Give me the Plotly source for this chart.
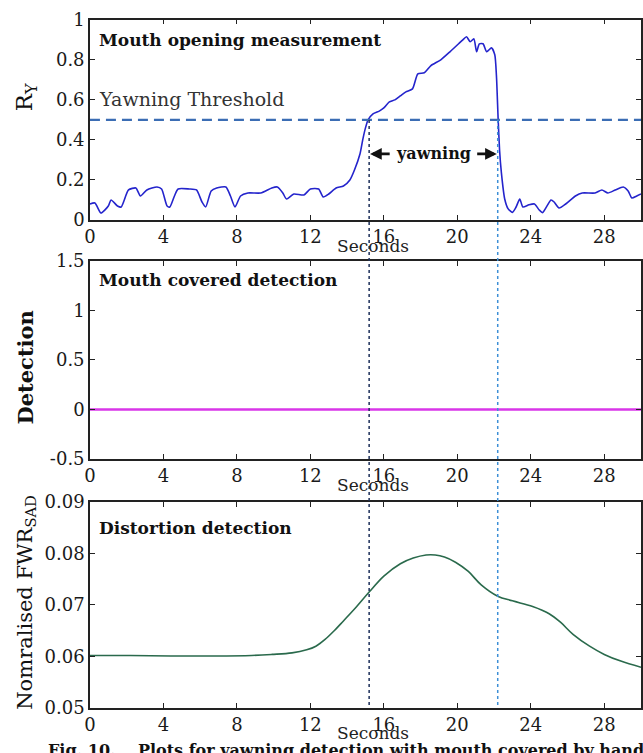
import plotly.graph_objects as go

# ---- data -------------------------------------------------------------
# mouth opening ratio R_Y over time (seconds)
ry_t = [0, 0.27, 0.6, 1.0, 1.15, 1.5, 1.7, 2.1, 2.5, 2.75, 3.1, 3.65, 3.9, 4.2,
        4.35, 4.6, 4.8, 5.4, 5.8, 6.1, 6.3, 6.6, 6.9, 7.4, 7.65, 7.9, 8.2, 8.6,
        9.3, 9.9, 10.2, 10.5, 10.7, 11.1, 11.65, 12.0, 12.45, 12.7, 13.0, 13.4,
        13.8, 14.15, 14.4, 14.7, 14.85, 15.0, 15.14, 15.41, 15.77, 16.0, 16.3,
        16.6, 16.9, 17.2, 17.56, 17.85, 18.2, 18.55, 19.1, 19.6, 20.07, 20.3,
        20.5, 20.7, 20.9, 21.05, 21.2, 21.4, 21.6, 21.86, 22.04, 22.13, 22.22,
        22.3, 22.4, 22.58, 22.76, 23.0, 23.2, 23.4, 23.57, 23.9, 24.2, 24.46,
        24.64, 24.9, 25.1, 25.27, 25.54, 25.9, 26.43, 26.8, 27.5, 27.87, 28.2,
        28.6, 29.03, 29.3, 29.5, 29.77, 30.0]
ry_val = [0.08, 0.085, 0.035, 0.07, 0.10, 0.07, 0.065, 0.15, 0.16, 0.12, 0.15,
          0.165, 0.155, 0.07, 0.065, 0.12, 0.155, 0.155, 0.15, 0.09, 0.065,
          0.145, 0.16, 0.165, 0.12, 0.065, 0.12, 0.135, 0.135, 0.16, 0.165,
          0.135, 0.105, 0.13, 0.125, 0.155, 0.155, 0.115, 0.13, 0.16, 0.17,
          0.20, 0.25, 0.33, 0.40, 0.46, 0.50, 0.53, 0.545, 0.56, 0.59, 0.60,
          0.62, 0.64, 0.655, 0.73, 0.735, 0.77, 0.80, 0.84, 0.88, 0.90, 0.915,
          0.89, 0.905, 0.84, 0.88, 0.88, 0.84, 0.86, 0.825, 0.72, 0.51, 0.35,
          0.235, 0.105, 0.057, 0.038, 0.065, 0.105, 0.065, 0.076, 0.08, 0.05,
          0.037, 0.073, 0.10, 0.09, 0.06, 0.08, 0.12, 0.135, 0.135, 0.15,
          0.135, 0.15, 0.165, 0.145, 0.11, 0.12, 0.13]
threshold = 0.5

# mouth covered detection flag
det_t = [0, 30]
det_val = [0, 0]

# normalised FWR_SAD distortion measure
fwr_t = [0, 2.2, 4.4, 6.6, 8.8, 9.9, 11.0, 11.8, 12.3, 12.8, 13.3, 13.8, 14.5,
         15.2, 16.0, 16.9, 17.6, 18.3, 18.8, 19.3, 19.9, 20.6, 21.3, 22.2,
         23.0, 24.1, 25.0, 25.6, 26.3, 27.2, 28.0, 28.9, 30.0]
fwr_val = [0.0602, 0.0602, 0.0601, 0.0601, 0.0602, 0.0604, 0.0607, 0.0613,
           0.0620, 0.0633, 0.0650, 0.0669, 0.0696, 0.0725, 0.0756, 0.0780,
           0.0791, 0.0797, 0.0797, 0.0793, 0.0783, 0.0765, 0.0739, 0.0717,
           0.0708, 0.0697, 0.0683, 0.0667, 0.0643, 0.0620, 0.0604, 0.0591,
           0.0579]

# yawning interval (start / end of threshold crossing)
yawn_start, yawn_end = 15.2, 22.2

x_ticks = [0, 4, 8, 12, 16, 20, 24, 28]
ry_ticks = [0, 0.2, 0.4, 0.6, 0.8, 1]
ry_ticktext = ["0", "0.2", "0.4", "0.6", "0.8", "1"]
det_ticks = [-0.5, 0, 0.5, 1, 1.5]
det_ticktext = ["-0.5", "0", "0.5", "1", "1.5"]
fwr_ticks = [0.05, 0.06, 0.07, 0.08, 0.09]
fwr_ticktext = ["0.05", "0.06", "0.07", "0.08", "0.09"]

# ---- layout helpers ---------------------------------------------------
W, H = 643, 753
SERIF = "DejaVu Serif"


def px(xp):
    return xp / W


def py(yp):
    return 1 - yp / H


fig = go.Figure()

fig.add_trace(go.Scatter(x=ry_t, y=ry_val, mode="lines",
                         line=dict(color="#2424cc", width=1.6, shape="spline", smoothing=0.6),
                         xaxis="x", yaxis="y", showlegend=False))
fig.add_trace(go.Scatter(x=[0, 30], y=[threshold, threshold], mode="lines",
                         line=dict(color="#3b6db4", width=2.2, dash="10px,6px"),
                         xaxis="x", yaxis="y", showlegend=False))
fig.add_trace(go.Scatter(x=det_t, y=det_val, mode="lines",
                         line=dict(color="#d936e8", width=2.6),
                         xaxis="x2", yaxis="y2", showlegend=False))
fig.add_trace(go.Scatter(x=fwr_t, y=fwr_val, mode="lines",
                         line=dict(color="#2a6a4c", width=1.6, shape="spline", smoothing=1.0),
                         xaxis="x3", yaxis="y3", showlegend=False))

x_dom = [px(85), 1.0]
doms = {
    "": [py(215), py(9)],
    "2": [py(461), py(257)],
    "3": [py(717), py(505)],
}

tickfont = dict(family=SERIF, size=18, color="#1a1a1a")
common_axis = dict(showline=True, linecolor="#222", linewidth=1.5, mirror="allticks",
                   ticks="inside", ticklen=5, tickwidth=1.2, tickcolor="#222",
                   showgrid=False, zeroline=False, tickfont=tickfont, fixedrange=True)

layout = dict(width=W, height=H, margin=dict(l=0, r=0, t=0, b=0),
              paper_bgcolor="white", plot_bgcolor="white", showlegend=False)

ytick_specs = {"": (ry_ticks, ry_ticktext, [0, 1]),
               "2": (det_ticks, det_ticktext, [-0.5, 1.5]),
               "3": (fwr_ticks, fwr_ticktext, [0.05, 0.09])}
for k, dom in doms.items():
    tv, tt, rng = ytick_specs[k]
    layout["xaxis" + k] = dict(common_axis, domain=x_dom, range=[0, 30],
                               tickvals=x_ticks, ticktext=[str(v) for v in x_ticks],
                               anchor="y" + k)
    layout["yaxis" + k] = dict(common_axis, domain=dom, range=rng,
                               tickvals=tv, ticktext=tt, anchor="x" + k)

fig.update_layout(**layout)

annots = []
# panel titles
for text, yp in [("Mouth opening measurement", 30),
                 ("Mouth covered detection", 277),
                 ("Distortion detection", 532)]:
    annots.append(dict(text="<b>" + text + "</b>", x=px(92), y=py(yp), xref="paper", yref="paper",
                       xanchor="left", yanchor="middle", showarrow=False,
                       font=dict(family=SERIF, size=17, color="#111")))

annots.append(dict(text="Yawning Threshold", x=px(92), y=py(91), xref="paper", yref="paper",
                   xanchor="left", yanchor="middle", showarrow=False,
                   font=dict(family=SERIF, size=19, color="#333")))

# x-axis titles
for yp in [242, 488, 743]:
    annots.append(dict(text="Seconds", x=px(372), y=py(yp), xref="paper", yref="paper",
                       xanchor="center", yanchor="middle", showarrow=False,
                       font=dict(family=SERIF, size=17, color="#222")))

# y-axis titles
annots.append(dict(text="R<sub>Y</sub>", x=px(20), y=py(89), xref="paper", yref="paper",
                   textangle=-90, xanchor="center", yanchor="middle", showarrow=False,
                   font=dict(family=SERIF, size=23, color="#111")))
annots.append(dict(text="<b>Detection</b>", x=px(20), y=py(367), xref="paper", yref="paper",
                   textangle=-90, xanchor="center", yanchor="middle", showarrow=False,
                   font=dict(family=SERIF, size=21, color="#111")))
annots.append(dict(text="Nomralised FWR<sub>SAD</sub>", x=px(20), y=py(608), xref="paper",
                   yref="paper", textangle=-90, xanchor="center", yanchor="middle",
                   showarrow=False, font=dict(family=SERIF, size=21, color="#111")))

# yawning interval label with arrows
mid = (yawn_start + yawn_end) / 2
annots.append(dict(text="<b>yawning</b>", x=mid, y=0.33, xref="x", yref="y",
                   xanchor="center", yanchor="middle", showarrow=False,
                   font=dict(family=SERIF, size=16, color="#111")))
annots.append(dict(text="", x=yawn_start + 0.05, y=0.33, ax=yawn_start + 1.2, ay=0.33,
                   xref="x", yref="y", axref="x", ayref="y", showarrow=True,
                   arrowhead=2, arrowsize=0.9, arrowwidth=2.6, arrowcolor="#111"))
annots.append(dict(text="", x=yawn_end - 0.05, y=0.33, ax=yawn_end - 1.2, ay=0.33,
                   xref="x", yref="y", axref="x", ayref="y", showarrow=True,
                   arrowhead=2, arrowsize=0.9, arrowwidth=2.6, arrowcolor="#111"))

# figure caption (runs off the bottom edge)
annots.append(dict(text="<b>Fig. 10.    Plots for yawning detection with mouth covered by hand</b>",
                   x=px(40), y=py(749), xref="paper", yref="paper", xanchor="left",
                   yanchor="top", showarrow=False,
                   font=dict(family=SERIF, size=16, color="#111")))

fig.update_layout(annotations=annots)

# dotted markers of the yawning interval spanning all panels
fig.add_shape(type="line", x0=yawn_start, x1=yawn_start, xref="x", y0=py(112), y1=py(717),
              yref="paper", line=dict(color="#1d2f5a", width=1.5, dash="dot"))
fig.add_shape(type="line", x0=yawn_end, x1=yawn_end, xref="x", y0=py(112), y1=py(717),
              yref="paper", line=dict(color="#3d8fd6", width=1.5, dash="dot"))

fig.write_html("out.html")
